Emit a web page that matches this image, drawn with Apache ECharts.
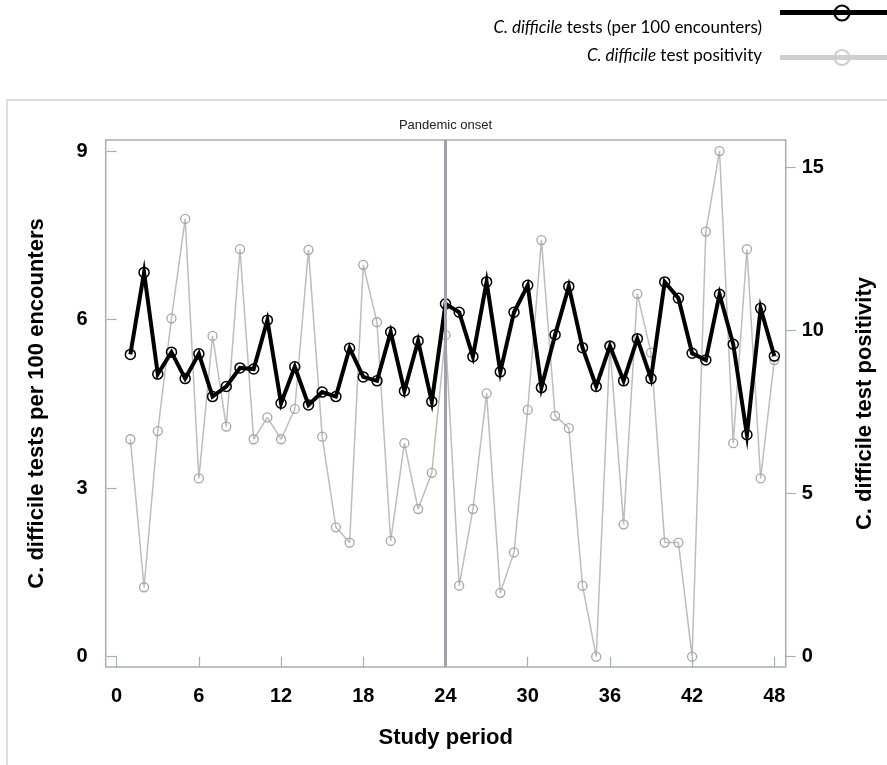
<!DOCTYPE html>
<html><head><meta charset="utf-8">
<script src="https://cdn.jsdelivr.net/npm/echarts@6/dist/echarts.min.js"></script>
<style>html,body{margin:0;padding:0;background:#fff}#c{width:887px;height:765px}</style>
</head><body><div id="c"></div>
<script>
const periods = [1,2,3,4,5,6,7,8,9,10,11,12,13,14,15,16,17,18,19,20,21,22,23,24,25,26,27,28,29,30,31,32,33,34,35,36,37,38,39,40,41,42,43,44,45,46,47,48];
const tests = [5.38,6.84,5.03,5.42,4.95,5.39,4.63,4.81,5.14,5.12,5.99,4.51,5.16,4.48,4.71,4.63,5.49,4.98,4.91,5.78,4.73,5.62,4.54,6.28,6.13,5.34,6.67,5.07,6.13,6.61,4.79,5.73,6.59,5.50,4.81,5.53,4.91,5.66,4.95,6.67,6.38,5.40,5.28,6.45,5.56,3.95,6.20,5.35];
const positivity = [6.67,2.13,6.92,10.38,13.43,5.47,9.84,7.06,12.50,6.67,7.34,6.67,7.60,12.48,6.75,3.97,3.50,12.02,10.26,3.55,6.55,4.53,5.64,9.87,2.18,4.53,8.08,1.96,3.20,7.57,12.78,7.39,7.01,2.18,0,9.51,4.06,11.13,9.33,3.50,3.50,0,13.04,15.51,6.55,12.50,5.47,9.10];
const xTicks = [0,6,12,18,24,30,36,42,48];
const leftTicks = [0,3,6,9];
const rightTicks = [0,5,10,15];
const onset = 24;
const names = ['C. difficile tests (per 100 encounters)','C. difficile test positivity'];

const chart = echarts.init(document.getElementById('c'));
const tickFont = {fontFamily:'Liberation Sans',fontWeight:'bold',fontSize:20,color:'#000'};
const nameFont = {fontFamily:'Liberation Sans',fontWeight:'bold',fontSize:22,color:'#000'};
const frameGray = '#a9aeb3';
chart.setOption({
  animation:false,
  grid:{left:105.7,right:101.3,top:140,bottom:98,show:true,borderColor:frameGray,borderWidth:1.5},
  xAxis:{type:'value',min:-0.8,max:48.83,
    name:'Study period',nameLocation:'middle',nameGap:60,nameTextStyle:nameFont,
    axisLine:{show:false},splitLine:{show:false},
    axisTick:{show:true,length:10,lineStyle:{color:frameGray,width:1.2},customValues:xTicks},
    axisLabel:Object.assign({margin:19,customValues:xTicks},tickFont)},
  yAxis:[
    {type:'value',min:-0.183,max:9.196,position:'left',
     name:'C. difficile tests per 100 encounters',nameLocation:'middle',nameGap:58,nameRotate:90,nameTextStyle:nameFont,
     axisLine:{show:false},splitLine:{show:false},
     axisTick:{show:true,length:10,lineStyle:{color:frameGray,width:1.2},customValues:leftTicks},
     axisLabel:Object.assign({margin:18,customValues:leftTicks},tickFont)},
    {type:'value',min:-0.316,max:15.85,position:'right',
     name:'C. difficile test positivity',nameLocation:'middle',nameGap:68,nameRotate:90,nameTextStyle:nameFont,
     axisLine:{show:false},splitLine:{show:false},
     axisTick:{show:true,length:10,lineStyle:{color:frameGray,width:1.2},customValues:rightTicks},
     axisLabel:Object.assign({margin:16,customValues:rightTicks},tickFont)}
  ],
  series:[
    {name:names[1],type:'line',yAxisIndex:1,data:periods.map((p,i)=>[p,positivity[i]]),
     symbol:'circle',symbolSize:9,
     lineStyle:{color:'#bdbdbd',width:1.5},
     itemStyle:{color:'rgba(255,255,255,0)',borderColor:'#a6a6a6',borderWidth:1.3},
     markLine:{silent:true,symbol:'none',
       lineStyle:{color:'#9ea3a8',width:3,type:'solid'},
       label:{show:true,position:'end',formatter:'Pandemic onset',fontFamily:'Liberation Sans',fontSize:13,color:'#222',distance:8},
       data:[{xAxis:onset}]},
     z:2},
    {name:names[0],type:'line',yAxisIndex:0,data:periods.map((p,i)=>[p,tests[i]]),
     symbol:'circle',symbolSize:10,
     lineStyle:{color:'#000',width:4,join:'miter',miterLimit:10},
     itemStyle:{color:'rgba(255,255,255,0)',borderColor:'#000',borderWidth:1.5},
     z:3}
  ],
  graphic:[
    {type:'rect',shape:{x:7,y:100,width:900,height:700},style:{fill:'none',stroke:'#d4d4d4',lineWidth:1.5},silent:true,z:-1},
    {type:'text',x:762,y:28,style:{text:'{i|C. difficile} tests (per 100 encounters)',align:'right',verticalAlign:'middle',
      font:'17px Lato',fill:'#000',rich:{i:{fontStyle:'italic',fontFamily:'Lato',fontSize:17}}}},
    {type:'text',x:762,y:56,style:{text:'{i|C. difficile} test positivity',align:'right',verticalAlign:'middle',
      font:'17px Lato',fill:'#000',rich:{i:{fontStyle:'italic',fontFamily:'Lato',fontSize:17}}}},
    {type:'line',shape:{x1:780,y1:12.5,x2:887,y2:12.5},style:{stroke:'#000',lineWidth:5}},
    {type:'circle',shape:{cx:842,cy:13,r:7.5},style:{fill:'none',stroke:'#000',lineWidth:2.2}},
    {type:'line',shape:{x1:780,y1:57.5,x2:887,y2:57.5},style:{stroke:'#cfcfcf',lineWidth:5}},
    {type:'circle',shape:{cx:842,cy:57.5,r:7.5},style:{fill:'none',stroke:'#cfcfcf',lineWidth:2.2}}
  ]
});
</script></body></html>
